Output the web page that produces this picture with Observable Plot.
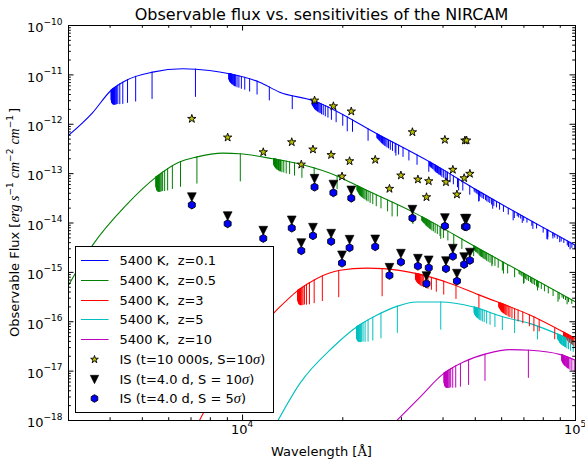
<!DOCTYPE html>
<html><head><meta charset="utf-8">
<script src="https://cdn.jsdelivr.net/npm/d3@7"></script>
<script src="https://cdn.jsdelivr.net/npm/@observablehq/plot@0.6"></script>
<style>body{margin:0;background:#fff;} #chart{width:585px;height:460px;}</style>
</head><body><div id="chart"></div>
<script>
// ---------- data ----------
const redshifts = [0.1, 0.5, 3, 5, 10];
const curveLabels = ["5400 K,  z=0.1", "5400 K,  z=0.5", "5400 K,  z=3", "5400 K,  z=5", "5400 K,  z=10"];
const curveColors = ["#0000ff", "#008000", "#ff0000", "#00bfbf", "#bf00bf"];

// continuum of each spectrum: wavelength (Å) and flux (erg s^-1 cm^-2 cm^-1)
const wlZ01 = [3000, 3541, 4023, 4463, 5367, 6610, 7955, 9137, 11250, 12925, 16248, 25860, 36590, 51740, 100000];
const fxZ01 = [5.93e-13, 1.7e-12, 4.83e-12, 7.71e-12, 1.135e-11, 1.327e-11, 1.227e-11, 1.052e-11, 7.11e-12, 4.47e-12, 3.03e-12, 5.93e-13, 1.71e-13, 4.23e-14, 3.52e-15];
const wlZ05 = [3000, 3541, 4463, 5497, 6460, 7254, 8723, 9795, 12340, 14850, 19600, 22510, 32510, 51740, 100000];
const fxZ05 = [5.46e-16, 3.52e-15, 2.27e-14, 8.49e-14, 1.71e-13, 2.16e-13, 2.60e-13, 2.53e-13, 2.00e-13, 1.57e-13, 8.49e-14, 5.33e-14, 1.66e-14, 2.92e-15, 2.51e-16];
const wlZ3 = [7421, 8514, 9890, 12486, 14676, 16672, 19600, 23585, 26466, 33360, 42020, 51740, 73200, 100000];
const fxZ3 = [1.0e-18, 5.66e-18, 3.09e-17, 1.57e-16, 4.33e-16, 7.45e-16, 1.10e-15, 1.22e-15, 1.19e-15, 9.42e-16, 5.98e-16, 3.42e-16, 1.35e-16, 4.55e-17];
const wlZ5 = [12775, 14850, 18710, 22000, 25280, 29040, 33360, 39210, 49400, 60810, 73200, 90120, 100000];
const fxZ5 = [1.0e-18, 5.58e-18, 3.08e-17, 7.82e-17, 1.35e-16, 2.05e-16, 2.51e-16, 2.51e-16, 1.99e-16, 1.245e-16, 9.16e-17, 5.31e-17, 3.88e-17];
const wlZ10 = [29060, 34130, 40120, 46080, 54200, 63710, 73200, 90120, 100000];
const fxZ10 = [1.0e-18, 2.99e-18, 8.89e-18, 1.53e-17, 2.26e-17, 2.72e-17, 2.64e-17, 2.16e-17, 1.66e-17];

// hydrogen absorption lines, rest frame (Å), and their depth (dex below the continuum)
const balmerRest = [6563, 4861, 4340, 4102, 3970, 3889, 3835, 3798, 3771, 3750, 3734, 3722, 3712, 3704, 3697, 3692, 3687, 3683, 3679, 3676, 3674, 3672, 3670, 3668, 3666, 3665];
const balmerDepth = [0.57, 0.55, 0.52, 0.48, 0.45, 0.42, 0.39, 0.38, 0.37, 0.36, 0.35, 0.34, 0.33, 0.32, 0.31, 0.30, 0.29, 0.28, 0.27, 0.26, 0.25, 0.24, 0.23, 0.22, 0.21, 0.20];
const paschenRest = [18751, 12818, 10938, 10049, 9546, 9229, 9015, 8863, 8750, 8665, 8599, 8546, 8503, 8468, 8438, 8414, 8393, 8375, 8359, 8346, 8334, 8324, 8315, 8307, 8299, 8287, 8277, 8265];
const paschenDepth = [0.30, 0.28, 0.28, 0.28, 0.27, 0.26, 0.26, 0.25, 0.25, 0.24, 0.24, 0.23, 0.22, 0.21, 0.21, 0.20, 0.19, 0.19, 0.18, 0.17, 0.17, 0.16, 0.16, 0.15, 0.15, 0.14, 0.13, 0.12];
const brackettRest = [40512, 26252, 21655, 19445, 18174, 17362, 16806, 16407, 16109, 15880, 15700, 15556, 15439, 15342, 15260, 15192, 15133, 15083, 15039, 15001, 14967, 14938, 14888, 14848, 14801, 14766, 14731, 14700];
const brackettDepth = [0.24, 0.25, 0.25, 0.25, 0.24, 0.24, 0.24, 0.23, 0.23, 0.22, 0.22, 0.21, 0.21, 0.20, 0.20, 0.19, 0.19, 0.18, 0.18, 0.17, 0.17, 0.16, 0.15, 0.14, 0.13, 0.12, 0.11, 0.10];
const pfundRest = [74578, 46525, 37395, 32961, 30384, 28722, 27575, 26744, 26120, 25637, 25254, 24946, 24693, 24484, 24307, 24157, 24029, 23918, 23822, 23738, 23663, 23539, 23439, 23323, 23236, 23150, 23073, 23018];
const pfundDepth = [0.20, 0.22, 0.22, 0.22, 0.21, 0.21, 0.20, 0.20, 0.20, 0.19, 0.19, 0.18, 0.18, 0.17, 0.17, 0.16, 0.16, 0.15, 0.15, 0.14, 0.14, 0.13, 0.12, 0.12, 0.11, 0.10, 0.10, 0.09];
const humphreysRest = [75003, 59065, 51272, 46712, 43752, 41696, 40197, 39064, 38184, 37483, 36916, 36449, 36059, 35731, 35451, 35210, 35002, 34820, 34660, 34519, 34393, 34181, 33936, 33752, 33569, 33408, 33293, 33209, 33145];
const humphreysDepth = [0.20, 0.20, 0.20, 0.20, 0.19, 0.19, 0.19, 0.18, 0.18, 0.18, 0.17, 0.17, 0.17, 0.16, 0.16, 0.16, 0.15, 0.15, 0.15, 0.14, 0.14, 0.13, 0.12, 0.12, 0.11, 0.11, 0.10, 0.10, 0.09];
const series7Rest = [87569, 75054, 67696, 62896, 59547, 57094, 55231, 53778, 52618, 51674, 50894, 50243, 49691, 49219, 48812, 48150, 47638, 47232, 46764, 46521, 46071, 45767, 45395, 45111];
const series7Depth = [0.15, 0.15, 0.15, 0.15, 0.14, 0.14, 0.14, 0.14, 0.13, 0.13, 0.13, 0.12, 0.12, 0.12, 0.11, 0.11, 0.11, 0.10, 0.10, 0.09, 0.09, 0.08, 0.08, 0.07];
const series8Rest = [86611, 81516, 77773, 74922, 72688, 69440, 67218, 64984, 63515, 62219, 61360, 60760];
const series8Depth = [0.12, 0.12, 0.12, 0.11, 0.11, 0.10, 0.10, 0.09, 0.09, 0.08, 0.08, 0.07];
const series9Rest = [90433, 88660, 85904, 83873, 82329, 80164, 78744, 77760];
const series9Depth = [0.10, 0.10, 0.10, 0.09, 0.09, 0.08, 0.08, 0.07];

// NIRCAM filters: pivot wavelength (Å) and sensitivities
const filterWl = [7040, 9020, 11540, 14050, 15010, 16270, 16450, 18450, 18740, 19890, 20960, 21210, 25030, 27620, 29890, 32370, 33620, 35680, 36240, 40520, 40820, 42810, 44040, 46300, 46540, 47080, 48170];
const sens10ks10s = [1.29e-12, 5.40e-13, 2.72e-13, 4.34e-13, 1.53e-13, 3.09e-13, 3.03e-12, 2.39e-13, 2.32e-12, 8.77e-14, 1.79e-13, 1.82e-12, 1.91e-13, 4.94e-14, 9.20e-14, 6.92e-13, 7.63e-14, 3.34e-14, 7.05e-14, 4.85e-13, 6.73e-14, 1.20e-13, 3.79e-14, 8.11e-14, 4.70e-13, 4.70e-13, 9.95e-14];
const sens4d10s = [3.34e-14, 1.38e-14, 6.98e-15, 1.13e-14, 3.92e-15, 8.03e-15, 7.88e-14, 6.07e-15, 5.99e-14, 2.21e-15, 4.59e-15, 4.57e-14, 4.65e-15, 1.24e-15, 2.39e-15, 1.86e-14, 1.89e-15, 8.41e-16, 1.75e-15, 1.26e-14, 1.69e-15, 3.02e-15, 9.41e-16, 2.04e-15, 1.22e-14, 1.22e-14, 2.51e-15];
const sens4d5s = [2.32e-14, 9.68e-15, 4.88e-15, 7.88e-15, 2.75e-15, 5.53e-15, 5.33e-14, 4.24e-15, 4.10e-14, 1.54e-15, 3.16e-15, 3.19e-14, 3.31e-15, 8.70e-16, 1.62e-15, 1.26e-14, 1.34e-15, 5.91e-16, 1.24e-15, 8.66e-15, 1.19e-15, 2.11e-15, 6.67e-16, 1.45e-15, 8.42e-15, 8.42e-15, 1.75e-15];
const pointLabels = ["IS (t=10 000s, S=10", "IS (t=4.0 d, S = 10", "IS (t=4.0 d, S = 5"];

// ---------- build tables ----------
const continua = [[wlZ01, fxZ01], [wlZ05, fxZ05], [wlZ3, fxZ3], [wlZ5, fxZ5], [wlZ10, fxZ10]];
const lineSeries = [[balmerRest, balmerDepth], [paschenRest, paschenDepth], [brackettRest, brackettDepth], [pfundRest, pfundDepth], [humphreysRest, humphreysDepth], [series7Rest, series7Depth], [series8Rest, series8Depth], [series9Rest, series9Depth]];

// value of the drawn (monotone-x) continuum at a wavelength, so line tops meet the curve
function continuumAt(wl, fx) {
  const xs = wl.map(Math.log10), ys = fx.map(Math.log10), n = xs.length;
  const sign = v => v < 0 ? -1 : 1, t = new Array(n);
  for (let i = 1; i < n - 1; i++) {
    const h0 = xs[i] - xs[i - 1], h1 = xs[i + 1] - xs[i];
    const s0 = (ys[i] - ys[i - 1]) / h0, s1 = (ys[i + 1] - ys[i]) / h1;
    const p = (s0 * h1 + s1 * h0) / (h0 + h1);
    t[i] = (sign(s0) + sign(s1)) * Math.min(Math.abs(s0), Math.abs(s1), 0.5 * Math.abs(p)) || 0;
  }
  t[0] = (3 * (ys[1] - ys[0]) / (xs[1] - xs[0]) - t[1]) / 2;
  t[n - 1] = (3 * (ys[n - 1] - ys[n - 2]) / (xs[n - 1] - xs[n - 2]) - t[n - 2]) / 2;
  return w => {
    const x = Math.log10(w);
    let i = 0; while (i < n - 2 && x > xs[i + 1]) i++;
    const dx = xs[i + 1] - xs[i], s = (x - xs[i]) / dx;
    const h00 = 2*s*s*s - 3*s*s + 1, h10 = s*s*s - 2*s*s + s, h01 = -2*s*s*s + 3*s*s, h11 = s*s*s - s*s;
    return Math.pow(10, h00 * ys[i] + h10 * dx * t[i] + h01 * ys[i + 1] + h11 * dx * t[i + 1]);
  };
}

const contRows = [], absRows = [];
continua.forEach(([wl, fx], c) => {
  wl.forEach((w, i) => contRows.push({curve: c, wl: w, fx: fx[i]}));
  const f = continuumAt(wl, fx);
  lineSeries.forEach(([rest, depth]) => rest.forEach((r, i) => {
    const w = r * (1 + redshifts[c]);
    if (w <= wl[0] || w >= 100000) return;
    const top = f(w);
    absRows.push({wl: w, top, bottom: top * Math.pow(10, -depth[i]), color: curveColors[c]});
  }));
});
const filterRows = filterWl.map((w, i) => ({wl: w, a: sens10ks10s[i], b: sens4d10s[i], c: sens4d5s[i]}));

// marker shapes (r = sqrt(size/pi))
const starSym = {draw(ctx, size) { const R = Math.sqrt(size / Math.PI), ri = R * 0.382;
  for (let k = 0; k < 10; k++) { const a = -Math.PI / 2 + k * Math.PI / 5, rr = k % 2 ? ri : R;
    const px = rr * Math.cos(a), py = rr * Math.sin(a); k ? ctx.lineTo(px, py) : ctx.moveTo(px, py); } ctx.closePath(); }};
const triDownSym = {draw(ctx, size) { const R = Math.sqrt(size / Math.PI);
  ctx.moveTo(0, R); ctx.lineTo(-R, -R); ctx.lineTo(R, -R); ctx.closePath(); }};
const hexSym = {draw(ctx, size) { const R = Math.sqrt(size / Math.PI);
  for (let k = 0; k < 6; k++) { const a = -Math.PI / 2 + k * Math.PI / 3; const px = R * Math.cos(a), py = R * Math.sin(a);
    k ? ctx.lineTo(px, py) : ctx.moveTo(px, py); } ctx.closePath(); }};

// ---------- axes ----------
const W = 585, H = 460, mT = 25, mB = 40, mL = 68, mR = 10;
const iH = H - mT - mB, iW = W - mL - mR;
const xTicks = d3.scaleLog().domain([3000, 1e5]).ticks();
const yTicks = d3.scaleLog().domain([1e-18, 1e-10]).ticks();
const isMajor = v => Math.abs(Math.log10(v) - Math.round(Math.log10(v))) < 1e-6;
const xMajor = xTicks.filter(isMajor), xMinor = xTicks.filter(v => !isMajor(v));
const yMajor = yTicks.filter(isMajor), yMinor = yTicks.filter(v => !isMajor(v));
const expo = v => String(Math.round(Math.log10(v))).replace("-", "\u2212");
const majL = 5.5, minL = 2.8;

const plot = Plot.plot({
  width: W, height: H, marginTop: mT, marginBottom: mB, marginLeft: mL, marginRight: mR,
  style: {fontFamily: "DejaVu Sans", background: "white", color: "black"},
  x: {type: "log", domain: [3000, 1e5], axis: null},
  y: {type: "log", domain: [1e-18, 1e-10], axis: null},
  marks: [
    ...curveColors.map((col, c) => Plot.line(contRows.filter(d => d.curve === c),
      {x: "wl", y: "fx", stroke: col, strokeWidth: 1.1, curve: "monotone-x", clip: true})),
    Plot.ruleX(absRows, {x: "wl", y1: "top", y2: "bottom", stroke: "color", strokeWidth: 1, clip: true}),
    Plot.dot(filterRows, {x: "wl", y: "a", symbol: starSym, r: 4.4, fill: "#bfbf00", stroke: "black", strokeWidth: 0.9}),
    Plot.dot(filterRows, {x: "wl", y: "b", symbol: triDownSym, r: 4.4, fill: "black", stroke: "black", strokeWidth: 0.6}),
    Plot.dot(filterRows, {x: "wl", y: "c", symbol: hexSym, r: 4.0, fill: "#0000ff", stroke: "black", strokeWidth: 0.9}),
    Plot.frame({stroke: "black", strokeWidth: 1}),
    // ticks, inward on all four sides
    Plot.ruleX(xMajor, {x: d => d, insetTop: iH - majL, stroke: "black"}),
    Plot.ruleX(xMajor, {x: d => d, insetBottom: iH - majL, stroke: "black"}),
    Plot.ruleX(xMinor, {x: d => d, insetTop: iH - minL, stroke: "black"}),
    Plot.ruleX(xMinor, {x: d => d, insetBottom: iH - minL, stroke: "black"}),
    Plot.ruleY(yMajor, {y: d => d, insetLeft: iW - majL, stroke: "black"}),
    Plot.ruleY(yMajor, {y: d => d, insetRight: iW - majL, stroke: "black"}),
    Plot.ruleY(yMinor, {y: d => d, insetLeft: iW - minL, stroke: "black"}),
    Plot.ruleY(yMinor, {y: d => d, insetRight: iW - minL, stroke: "black"}),
    // tick labels 10^n
    Plot.text(yMajor, {y: d => d, text: () => "10", frameAnchor: "left", textAnchor: "end", dx: -25, dy: 2.7, fontSize: 13, fill: "black"}),
    Plot.text(yMajor, {y: d => d, text: expo, frameAnchor: "left", textAnchor: "start", dx: -25, dy: -3.8, fontSize: 9, fill: "black"}),
    Plot.text(xMajor, {x: d => d, text: () => "10", frameAnchor: "bottom", textAnchor: "end", dx: 5, dy: 13.5, fontSize: 13, fill: "black"}),
    Plot.text(xMajor, {x: d => d, text: expo, frameAnchor: "bottom", textAnchor: "start", dx: 5, dy: 6.8, fontSize: 9, fill: "black"})
  ]
});
document.getElementById("chart").appendChild(plot);

// ---------- title, axis titles, legend ----------
const svg = d3.select(plot);
const cx = mL + iW / 2;
svg.append("text").attr("x", cx).attr("y", 19.5).attr("text-anchor", "middle")
  .attr("font-size", 16).attr("font-family", "DejaVu Sans").attr("fill", "black")
  .text("Observable flux vs. sensitivities of the NIRCAM");
const xl = svg.append("text").attr("x", cx).attr("y", 456).attr("text-anchor", "middle")
  .attr("font-size", 13).attr("font-family", "DejaVu Sans").attr("fill", "black");
xl.append("tspan").text("Wavelength [");
xl.append("tspan").attr("font-family", "DejaVu Serif").text("\u00c5");
xl.append("tspan").text("]");

const yl = svg.append("text").attr("transform", `translate(18.5,${mT + iH / 2}) rotate(-90)`).attr("text-anchor", "middle")
  .attr("font-size", 13).attr("font-family", "DejaVu Sans").attr("fill", "black");
yl.append("tspan").text("Observable Flux [");
const mathParts = [["erg s", "\u22121"], ["cm", "\u22122"], ["cm", "\u22121"]];
mathParts.forEach(([b, s], i) => {
  yl.append("tspan").attr("font-family", "Liberation Serif").attr("font-style", "italic").attr("font-size", 14)
    .attr("dx", i ? 4 : 0).attr("dy", i ? 5.5 : 0).text(b);
  yl.append("tspan").attr("font-family", "DejaVu Sans").attr("font-size", 9).attr("dy", -5.5).text(s);
});
yl.append("tspan").attr("dx", 2).attr("dy", 5.5).text("]");

const lg = svg.append("g").attr("text-anchor", "start");
const lx = 75.5, ly = 246.5, lw = 198, lh = 166;
lg.append("rect").attr("x", lx).attr("y", ly).attr("width", lw).attr("height", lh)
  .attr("fill", "white").attr("stroke", "black").attr("stroke-width", 1);
const rowY = i => Math.round(260 + i * 19.75) + 0.5;
curveLabels.forEach((lab, i) => {
  lg.append("line").attr("x1", 81).attr("x2", 108.5).attr("y1", rowY(i)).attr("y2", rowY(i))
    .attr("stroke", curveColors[i]).attr("stroke-width", 1);
  lg.append("text").attr("x", 119.5).attr("y", rowY(i) + 4.3).attr("font-size", 13).attr("text-anchor", "start")
    .attr("font-family", "DejaVu Sans").attr("fill", "black").text(lab);
});
const legSyms = [[starSym, 4.0, "#bfbf00"], [triDownSym, 4.2, "black"], [hexSym, 3.8, "#0000ff"]];
pointLabels.forEach((lab, j) => {
  const y = rowY(5 + j), [sym, r, fill] = legSyms[j];
  lg.append("path").attr("d", d3.symbol(sym, Math.PI * r * r)()).attr("transform", `translate(94.5,${y})`)
    .attr("fill", fill).attr("stroke", "black").attr("stroke-width", j === 1 ? 0.6 : 0.9);
  const t = lg.append("text").attr("x", 119.5).attr("y", y + 4.3).attr("font-size", 13).attr("text-anchor", "start")
    .attr("font-family", "DejaVu Sans").attr("fill", "black");
  t.append("tspan").text(lab);
  t.append("tspan").attr("font-family", "Liberation Serif").attr("font-style", "italic").attr("font-size", 14.5).text("\u03c3");
  t.append("tspan").text(")");
});
</script></body></html>
